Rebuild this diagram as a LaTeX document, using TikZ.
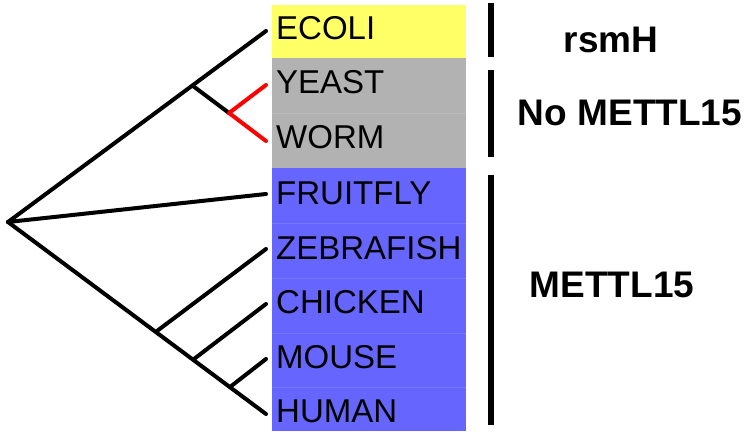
\documentclass[tikz,border=0pt]{standalone}
\usepackage{fontspec}
\setmainfont{Liberation Sans}
\definecolor{ecoli}{RGB}{255,255,102}
\definecolor{nogrp}{RGB}{178,178,178}
\definecolor{mgrp}{RGB}{102,102,255}
\definecolor{nosep}{RGB}{188,188,188}
\definecolor{msep}{RGB}{118,118,255}
\definecolor{redbr}{RGB}{255,0,0}
\tikzset{
  branch/.style={line width=4pt, line cap=round, line join=round, black},
  redbranch/.style={branch, draw=redbr},
  species/.style={anchor=base west, inner sep=0pt, font=\fontsize{33}{33}\selectfont},
  grouplabel/.style={anchor=base, inner sep=0pt, font=\fontsize{37}{37}\selectfont\bfseries},
  groupbar/.style={line width=6pt, black},
  rowsep/.style={line width=1pt}
}
\begin{document}
\begin{tikzpicture}[x=1pt, y=-1pt]
\useasboundingbox (0,0) rectangle (752,431);

% coloured species panels
\fill[ecoli] (272,5) rectangle (466,58);
\fill[nogrp] (272,58) rectangle (466,168);
\fill[mgrp] (272,168) rectangle (466,431);
\draw[rowsep, nosep] (272,113) -- (466,113);
\foreach \y in {223,278,333,387}
  \draw[rowsep, msep] (272,\y) -- (466,\y);

% species names
\node[species] (ecoli) at (276,39) {ECOLI};
\node[species] (yeast) at (276,93) {YEAST};
\node[species] (worm) at (276,148) {WORM};
\node[species] (fly) at (276,204) {FRUITFLY};
\node[species] (fish) at (276,259) {ZEBRAFISH};
\node[species] (chick) at (276,313) {CHICKEN};
\node[species] (mouse) at (276,368) {MOUSE};
\node[species] (human) at (276,422) {HUMAN};

% tree nodes
\coordinate (root) at (8,222);
\coordinate (nA) at (193,86);
\coordinate (nB) at (229,113);
\coordinate (nC) at (157,331);
\coordinate (nD) at (194,359);
\coordinate (nE) at (230,387);
\coordinate (lEcoli) at (266,31);
\coordinate (lYeast) at (266,85);
\coordinate (lWorm) at (266,141);
\coordinate (lFly) at (266,194);
\coordinate (lFish) at (266,249);
\coordinate (lChick) at (266,304);
\coordinate (lMouse) at (266,359);
\coordinate (lHuman) at (266,414);

% branches
\draw[branch] (root) -- (lEcoli);
\draw[branch] (nA) -- (nB);
\draw[redbranch] (lYeast) -- (nB) -- (lWorm);
\draw[branch] (root) -- (lFly);
\draw[branch] (root) -- (lHuman);
\draw[branch] (nC) -- (lFish);
\draw[branch] (nD) -- (lChick);
\draw[branch] (nE) -- (lMouse);

% group brackets and labels
\draw[groupbar] (491,3) -- (491,57);
\draw[groupbar] (491,70) -- (491,157);
\draw[groupbar] (491,175) -- (491,425);
\node[grouplabel] (rsmh) at (611,52) {rsmH};
\node[grouplabel] (nomettl) at (630,125) {No METTL15};
\node[grouplabel] (mettl) at (612,297) {METTL15};
\end{tikzpicture}
\end{document}
